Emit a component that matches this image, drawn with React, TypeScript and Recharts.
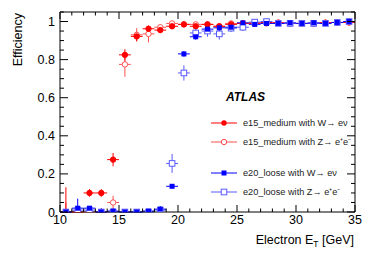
import React from 'react';
import { ScatterChart, Scatter, XAxis, YAxis, ErrorBar } from 'recharts';

// Bin centres (Electron E_T in GeV)
const binCenters = [10.5, 11.5, 12.5, 13.5, 14.5, 15.5, 16.5, 17.5, 18.5, 19.5, 20.5, 21.5, 22.5, 23.5, 24.5, 25.5, 26.5, 27.5, 28.5, 29.5, 30.5, 31.5, 32.5, 33.5, 34.5];

// e15_medium with W -> e nu
const e15W = [0, 0, 0.1, 0.1, 0.275, 0.825, 0.922, 0.962, 0.955, 0.975, 0.985, 0.975, 0.985, 0.975, 0.985, 0.99, 0.99, 0.995, 0.993, 0.99, 0.99, 0.99, 0.993, 0.995, 0.995];
const e15WErrLo = [0, 0, 0.02, 0.02, 0.035, 0.03, 0.025, 0.015, 0.015, 0.012, 0.01, 0.01, 0.01, 0.01, 0.008, 0.006, 0.006, 0.005, 0.005, 0.005, 0.005, 0.005, 0.005, 0.004, 0.004];
const e15WErrHi = [0.13, 0.02, 0.02, 0.02, 0.035, 0.03, 0.025, 0.015, 0.015, 0.012, 0.01, 0.01, 0.01, 0.01, 0.008, 0.006, 0.006, 0.005, 0.005, 0.005, 0.005, 0.005, 0.005, 0.004, 0.004];

// e15_medium with Z -> e+e-
const e15Z = [0, 0, 0, 0, 0.05, 0.775, 0.93, 0.935, 0.97, 0.99, 0.985, 0.985, 0.985, 0.975, 0.99, 0.99, 0.995, 0.99, 0.995, 0.99, 0.99, 0.99, 0.995, 0.995, 1.0];
const e15ZErrLo = [0, 0, 0, 0, 0.035, 0.065, 0.035, 0.045, 0.015, 0.012, 0.015, 0.01, 0.01, 0.01, 0.008, 0.008, 0.006, 0.006, 0.005, 0.005, 0.005, 0.005, 0.005, 0.005, 0.005];
const e15ZErrHi = [0.05, 0.01, 0.01, 0.01, 0.035, 0.035, 0.035, 0.045, 0.015, 0.01, 0.012, 0.01, 0.01, 0.01, 0.008, 0.008, 0.005, 0.006, 0.005, 0.005, 0.005, 0.005, 0.005, 0.005, 0.0];

// e20_loose with W -> e nu
const e20W = [0, 0.02, 0.02, 0, 0.005, 0, 0, 0.005, 0.015, 0.135, 0.83, 0.92, 0.96, 0.967, 0.97, 0.993, 0.985, 0.99, 0.99, 0.993, 0.99, 0.993, 0.99, 0.995, 1.0];
const e20WErrLo = [0, 0.02, 0.01, 0, 0.005, 0, 0, 0.005, 0.015, 0.01, 0.015, 0.015, 0.02, 0.015, 0.01, 0.006, 0.006, 0.005, 0.005, 0.005, 0.005, 0.004, 0.004, 0.004, 0.003];
const e20WErrHi = [0.01, 0.05, 0.01, 0.02, 0.01, 0.005, 0.005, 0.01, 0.015, 0.01, 0.015, 0.015, 0.02, 0.015, 0.01, 0.005, 0.006, 0.005, 0.005, 0.005, 0.005, 0.004, 0.004, 0.004, 0.0];

// e20_loose with Z -> e+e-
const e20Z = [0, 0.01, 0.01, 0, 0, 0, 0, 0, 0.01, 0.255, 0.73, 0.94, 0.95, 0.935, 0.965, 0.97, 0.997, 1.0, 0.99, 0.99, 0.99, 0.99, 0.99, 0.995, 1.0];
const e20ZErrLo = [0, 0.01, 0.01, 0, 0, 0, 0, 0, 0.01, 0.05, 0.04, 0.03, 0.03, 0.03, 0.02, 0.02, 0.01, 0.01, 0.008, 0.008, 0.007, 0.007, 0.006, 0.006, 0.005];
const e20ZErrHi = [0.01, 0.02, 0.015, 0.01, 0.01, 0.005, 0.005, 0.005, 0.02, 0.05, 0.04, 0.03, 0.03, 0.03, 0.02, 0.02, 0.003, 0.0, 0.008, 0.008, 0.007, 0.007, 0.006, 0.005, 0.0];

const binHalfWidth = 0.5;

const xTicks = [10, 11, 12, 13, 14, 15, 16, 17, 18, 19, 20, 21, 22, 23, 24, 25, 26, 27, 28, 29, 30, 31, 32, 33, 34, 35];
const yTicks = [0, 0.05, 0.1, 0.15, 0.2, 0.25, 0.3, 0.35, 0.4, 0.45, 0.5, 0.55, 0.6, 0.65, 0.7, 0.75, 0.8, 0.85, 0.9, 0.95, 1.0, 1.05];
const yMajorLabels: Record<string, string> = { '0': '0', '0.2': '0.2', '0.4': '0.4', '0.6': '0.6', '0.8': '0.8', '1': '1' };

const RED = '#ff0000';
const RED_L = '#ff5050';
const BLUE = '#0000ff';
const BLUE_L = '#5a5aff';
const FONT = '"Liberation Sans", Arial, Helvetica, sans-serif';

function build(vals: number[], lo: number[], hi: number[]) {
  return binCenters.map((x, i) => ({ x, y: vals[i], ex: binHalfWidth, ey: [lo[i], hi[i]] }));
}

const dE15W = build(e15W, e15WErrLo, e15WErrHi);
const dE15Z = build(e15Z, e15ZErrLo, e15ZErrHi);
const dE20W = build(e20W, e20WErrLo, e20WErrHi);
const dE20Z = build(e20Z, e20ZErrLo, e20ZErrHi);

const isXMajor = (v: number) => Math.abs(v % 5) < 1e-6;
const yKey = (v: number) => String(Math.round(v * 100) / 100);

const XBottomTick = (p: any) => {
  const v = p.payload.value;
  const major = isXMajor(v);
  return (
    <g>
      <line x1={p.x} x2={p.x} y1={p.y} y2={p.y - (major ? 7 : 3.5)} stroke="#000" strokeWidth={1} />
      {major && (
        <text x={p.x} y={p.y + 11.5} textAnchor="middle" fontSize={12.5} fontFamily={FONT} fill="#000">{v}</text>
      )}
    </g>
  );
};
const XTopTick = (p: any) => {
  const major = isXMajor(p.payload.value);
  return <line x1={p.x} x2={p.x} y1={p.y} y2={p.y + (major ? 7 : 3.5)} stroke="#000" strokeWidth={1} />;
};
const YLeftTick = (p: any) => {
  const lab = yMajorLabels[yKey(p.payload.value)];
  return (
    <g>
      <line x1={p.x} x2={p.x + (lab !== undefined ? 8 : 4)} y1={p.y} y2={p.y} stroke="#000" strokeWidth={1} />
      {lab !== undefined && (
        <text x={p.x - 5} y={p.y + 4.5} textAnchor="end" fontSize={12.5} fontFamily={FONT} fill="#000">{lab}</text>
      )}
    </g>
  );
};
const YRightTick = (p: any) => {
  const lab = yMajorLabels[yKey(p.payload.value)];
  return <line x1={p.x} x2={p.x - (lab !== undefined ? 8 : 4)} y1={p.y} y2={p.y} stroke="#000" strokeWidth={1} />;
};

const FilledCircle = (color: string) => (p: any) => <circle cx={p.cx} cy={p.cy} r={2.7} fill={color} stroke={color} />;
const OpenCircle = (color: string) => (p: any) => <circle cx={p.cx} cy={p.cy} r={2.7} fill="#fff" stroke={color} strokeWidth={1} />;
const FilledSquare = (color: string) => (p: any) => <rect x={p.cx - 2.5} y={p.cy - 2.5} width={5} height={5} fill={color} />;
const OpenSquare = (color: string) => (p: any) => <rect x={p.cx - 2.8} y={p.cy - 2.8} width={5.6} height={5.6} fill="#fff" stroke={color} strokeWidth={1} />;

const legendRows = [
  { y: 123, color: RED, marker: 'fc', label: 'e15_medium with W\u2192 e\u03bd' },
  { y: 142, color: RED_L, marker: 'oc', label: 'e15_medium with Z\u2192 e\u207ae\u207b' },
  { y: 173, color: BLUE, marker: 'fs', label: 'e20_loose with W\u2192 e\u03bd' },
  { y: 192, color: BLUE_L, marker: 'os', label: 'e20_loose with Z\u2192 e\u207ae\u207b' },
];

function Overlay() {
  return (
    <svg width={374} height={253} style={{ position: 'absolute', left: 0, top: 0, pointerEvents: 'none' }}>
      <text x={22} y={13} transform="rotate(-90 22 13)" textAnchor="end" fontSize={12.5} fontFamily={FONT} fill="#000">Efficiency</text>
      <text x={354} y={244} textAnchor="end" fontSize={12.5} fontFamily={FONT} fill="#000">
        Electron E<tspan fontSize={8.5} dy={3}>T</tspan><tspan dy={-3}> [GeV]</tspan>
      </text>
      <text x={226} y={101} fontSize={12} fontWeight="bold" fontStyle="italic" fontFamily={FONT} fill="#000">ATLAS</text>
      {legendRows.map((r) => (
        <g key={r.label}>
          <line x1={211} x2={237} y1={r.y} y2={r.y} stroke={r.color} strokeWidth={1} />
          {r.marker === 'fc' && <circle cx={224} cy={r.y} r={2.7} fill={r.color} />}
          {r.marker === 'oc' && <circle cx={224} cy={r.y} r={2.7} fill="#fff" stroke={r.color} />}
          {r.marker === 'fs' && <rect x={221.5} y={r.y - 2.5} width={5} height={5} fill={r.color} />}
          {r.marker === 'os' && <rect x={221.2} y={r.y - 2.8} width={5.6} height={5.6} fill="#fff" stroke={r.color} />}
          <text x={243} y={r.y + 3.2} fontSize={9.2} fontFamily={FONT} fill="#222">{r.label}</text>
        </g>
      ))}
    </svg>
  );
}

function Series(data: any[], color: string, shape: any, name: string) {
  return (
    <Scatter key={name} name={name} data={data} xAxisId="b" yAxisId="l" dataKey="y" fill={color} shape={shape} isAnimationActive={false}>
      <ErrorBar dataKey="ex" direction="x" width={0} stroke={color} strokeWidth={1} />
      <ErrorBar dataKey="ey" direction="y" width={0} stroke={color} strokeWidth={1} />
    </Scatter>
  );
}

export default function App() {
  return (
    <div style={{ position: 'absolute', left: 0, top: 0, width: 374, height: 253, background: '#fff' }}>
      <ScatterChart width={374} height={253} margin={{ top: 0, right: 0, bottom: 0, left: 0 }}>
        <XAxis xAxisId="b" type="number" dataKey="x" orientation="bottom" domain={[10, 35]} ticks={xTicks} interval={0}
          height={41} tickSize={0} tickMargin={0} tickLine={false} axisLine={{ stroke: '#000' }} tick={<XBottomTick />} allowDataOverflow />
        <XAxis xAxisId="t" type="number" dataKey="x" orientation="top" domain={[10, 35]} ticks={xTicks} interval={0}
          height={12} tickSize={0} tickMargin={0} tickLine={false} axisLine={{ stroke: '#000' }} tick={<XTopTick />} allowDataOverflow />
        <YAxis yAxisId="l" type="number" orientation="left" domain={[0, 1.05]} ticks={yTicks} interval={0}
          width={60} tickSize={0} tickMargin={0} tickLine={false} axisLine={{ stroke: '#000' }} tick={<YLeftTick />} allowDataOverflow />
        <YAxis yAxisId="r" type="number" orientation="right" domain={[0, 1.05]} ticks={yTicks} interval={0}
          width={19} tickSize={0} tickMargin={0} tickLine={false} axisLine={{ stroke: '#000' }} tick={<YRightTick />} allowDataOverflow />
        {Series(dE15Z, RED_L, OpenCircle(RED_L), 'e15Z')}
        {Series(dE15W, RED, FilledCircle(RED), 'e15W')}
        {Series(dE20Z, BLUE_L, OpenSquare(BLUE_L), 'e20Z')}
        {Series(dE20W, BLUE, FilledSquare(BLUE), 'e20W')}
      </ScatterChart>
      <Overlay />
    </div>
  );
}
